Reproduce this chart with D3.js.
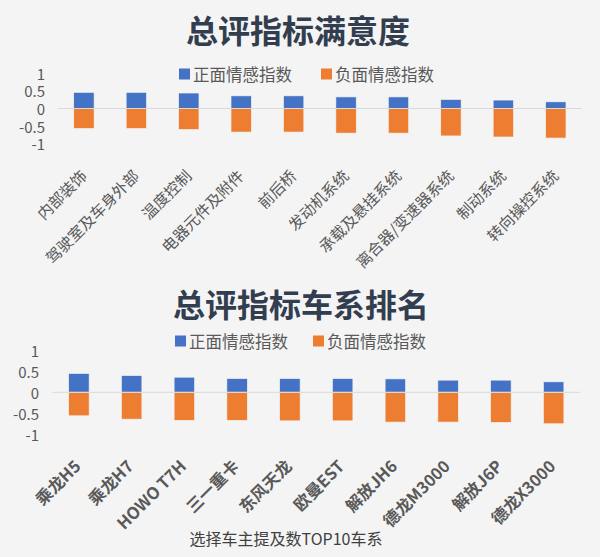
<!DOCTYPE html>
<html>
<head>
<meta charset="utf-8">
<script src="https://cdn.jsdelivr.net/npm/d3@7"></script>
<style>
  html, body { margin: 0; padding: 0; background: #f4f4f4; }
  svg { display: block; font-family: "Noto Sans CJK SC", "Noto Sans", sans-serif; }
</style>
</head>
<body>
<div id="chart"></div>
<script>
const seriesNames = ["正面情感指数", "负面情感指数"];
const seriesColors = ["#4472C4", "#ED7D31"];
const yTicks = [1, 0.5, 0, -0.5, -1];

const partCategories = ["内部装饰", "驾驶室及车身外部", "温度控制", "电器元件及附件", "前后桥",
  "发动机系统", "承载及悬挂系统", "离合器/变速器系统", "制动系统", "转向操控系统"];
const partPositive = [0.46, 0.46, 0.44, 0.36, 0.36, 0.33, 0.33, 0.26, 0.24, 0.19];
const partNegative = [-0.57, -0.57, -0.60, -0.67, -0.67, -0.70, -0.70, -0.78, -0.81, -0.84];

const modelCategories = ["乘龙H5", "乘龙H7", "HOWO T7H", "三一重卡", "东风天龙",
  "欧曼EST", "解放JH6", "德龙M3000", "解放J6P", "德龙X3000"];
const modelPositive = [0.45, 0.40, 0.36, 0.33, 0.33, 0.33, 0.32, 0.29, 0.29, 0.25];
const modelNegative = [-0.56, -0.64, -0.67, -0.67, -0.68, -0.68, -0.71, -0.71, -0.72, -0.75];

const width = 600;
const height = 557;

const svg = d3.select("#chart")
  .append("svg")
  .attr("width", width)
  .attr("height", height);

svg.append("rect")
  .attr("width", width)
  .attr("height", height)
  .attr("fill", "#f4f4f4");

function drawPanel(cfg) {
  const g = svg.append("g");

  // title
  g.append("text")
    .attr("x", cfg.titleX)
    .attr("y", cfg.titleY)
    .attr("text-anchor", "middle")
    .attr("dominant-baseline", "central")
    .attr("font-size", "32px")
    .attr("font-weight", "bold")
    .attr("fill", "#323E4F")
    .text(cfg.title);

  // legend
  const legend = g.selectAll(".legend")
    .data(seriesNames)
    .enter()
    .append("g")
    .attr("transform", (d, i) => `translate(${cfg.legendX[i]},${cfg.legendY})`);

  legend.append("rect")
    .attr("x", 0)
    .attr("y", -5.5)
    .attr("width", 11)
    .attr("height", 11)
    .attr("fill", (d, i) => seriesColors[i]);

  legend.append("text")
    .attr("x", 14)
    .attr("y", 0)
    .attr("dominant-baseline", "central")
    .attr("font-size", "16.5px")
    .attr("fill", "#595959")
    .text(d => d);

  const x = d3.scaleBand()
    .domain(cfg.categories)
    .range(cfg.xRange)
    .paddingInner(0.61)
    .paddingOuter(0.305);

  const y = d3.scaleLinear()
    .domain([-1, 1])
    .range(cfg.yRange);

  // y tick labels
  g.selectAll(".ytick")
    .data(yTicks)
    .enter()
    .append("text")
    .attr("x", cfg.tickX)
    .attr("y", d => y(d))
    .attr("text-anchor", "end")
    .attr("dominant-baseline", "central")
    .attr("font-size", "15px")
    .attr("fill", "#595959")
    .text(d => d);

  // bars
  const rows = cfg.categories.map((c, i) => ({ name: c, pos: cfg.positive[i], neg: cfg.negative[i] }));

  g.selectAll(".pos")
    .data(rows)
    .enter()
    .append("rect")
    .attr("x", d => x(d.name))
    .attr("y", d => y(d.pos))
    .attr("width", x.bandwidth())
    .attr("height", d => y(0) - y(d.pos))
    .attr("fill", seriesColors[0])
    .attr("stroke", "#f4f4f4")
    .attr("stroke-width", 0.7);

  g.selectAll(".neg")
    .data(rows)
    .enter()
    .append("rect")
    .attr("x", d => x(d.name))
    .attr("y", y(0))
    .attr("width", x.bandwidth())
    .attr("height", d => y(d.neg) - y(0))
    .attr("fill", seriesColors[1])
    .attr("stroke", "#f4f4f4")
    .attr("stroke-width", 0.7);

  // zero line
  g.append("line")
    .attr("x1", cfg.xRange[0])
    .attr("x2", cfg.xRange[1])
    .attr("y1", y(0))
    .attr("y2", y(0))
    .attr("stroke", "#d9d9d9")
    .attr("stroke-width", 1);

  // category labels, rotated
  g.selectAll(".xlabel")
    .data(cfg.categories)
    .enter()
    .append("text")
    .attr("transform", d => `translate(${x(d) + x.bandwidth() / 2 + cfg.labelDx},${cfg.labelY}) rotate(-45)`)
    .attr("text-anchor", "end")
    .attr("dominant-baseline", "central")
    .attr("font-size", cfg.labelSize)
    .attr("font-weight", cfg.labelWeight)
    .attr("fill", "#595959")
    .text(d => d);
}

drawPanel({
  title: "总评指标满意度",
  titleX: 298, titleY: 29,
  legendX: [179, 321], legendY: 74,
  categories: partCategories,
  positive: partPositive,
  negative: partNegative,
  xRange: [57.7, 582],
  yRange: [143.7, 73.3],
  tickX: 45,
  labelDx: -1, labelY: 172,
  labelSize: "15.5px",
  labelWeight: "normal"
});

drawPanel({
  title: "总评指标车系排名",
  titleX: 301, titleY: 303,
  legendX: [175, 313], legendY: 341,
  categories: modelCategories,
  positive: modelPositive,
  negative: modelNegative,
  xRange: [52.5, 580],
  yRange: [434.3, 350.3],
  tickX: 39,
  labelDx: -2, labelY: 462.5,
  labelSize: "16.5px",
  labelWeight: "bold"
});

svg.append("text")
  .attr("x", 286)
  .attr("y", 538)
  .attr("text-anchor", "middle")
  .attr("dominant-baseline", "central")
  .attr("font-size", "16px")
  .attr("fill", "#404040")
  .text("选择车主提及数TOP10车系");
</script>
</body>
</html>
